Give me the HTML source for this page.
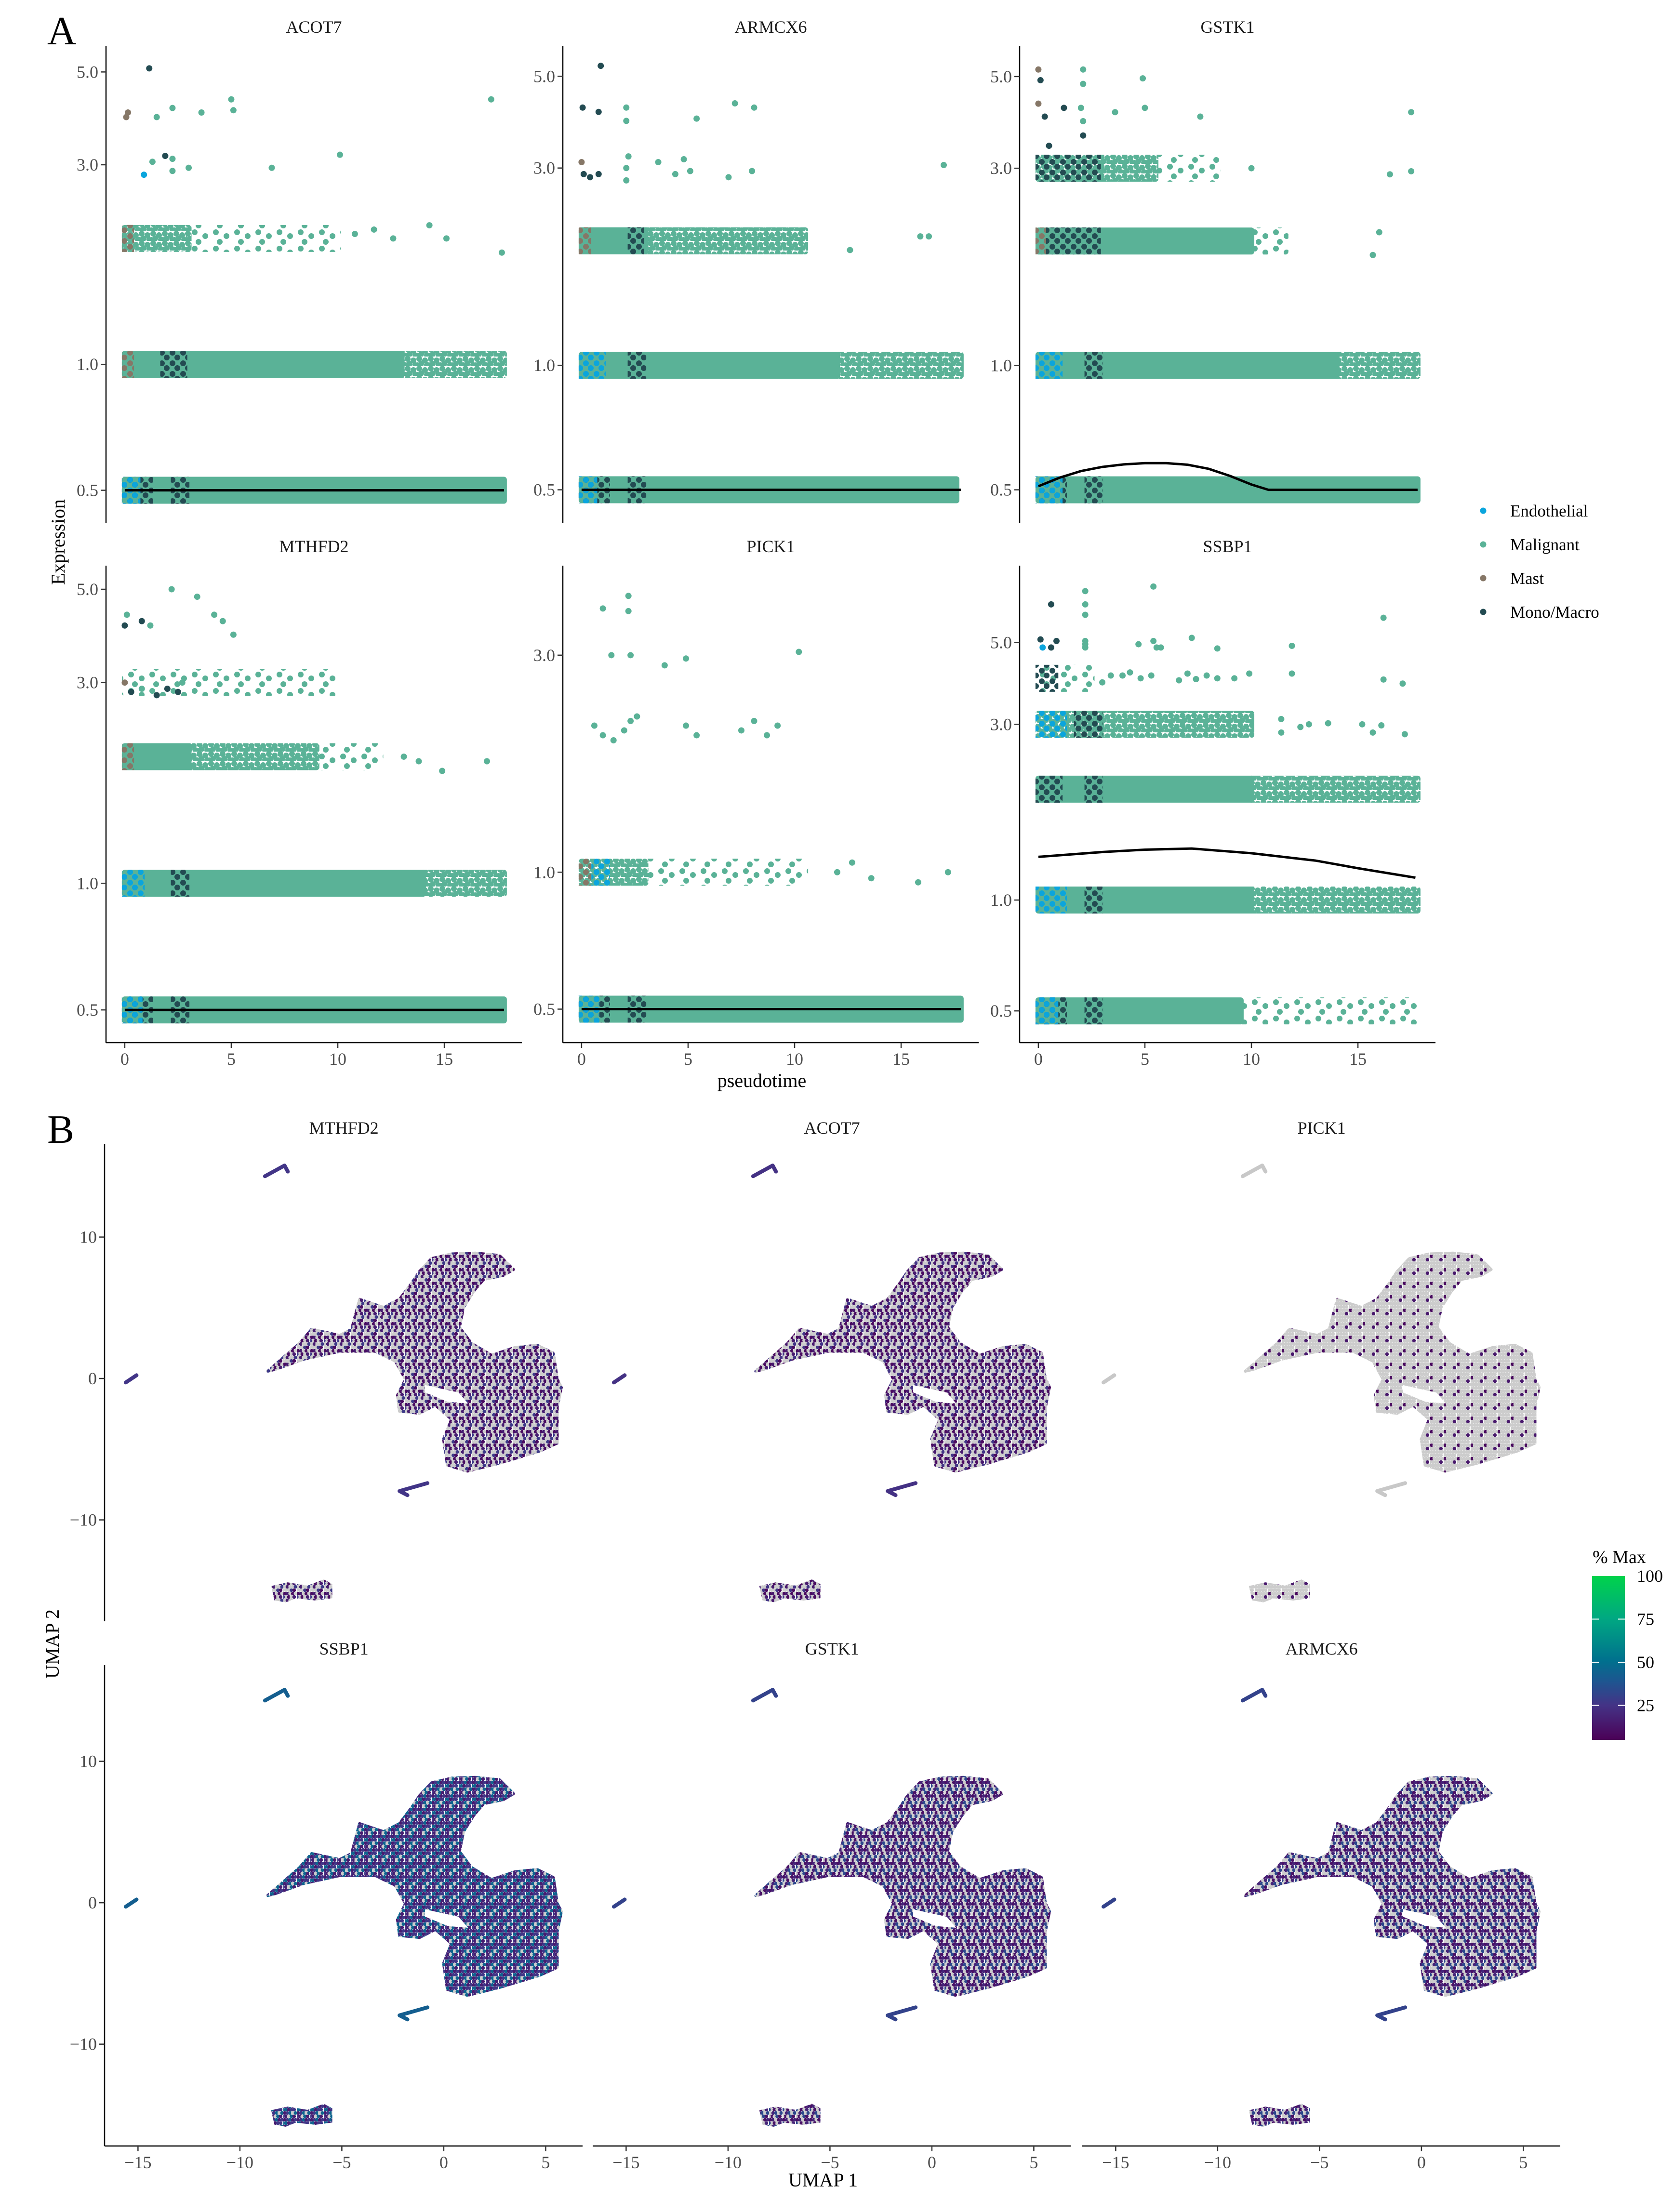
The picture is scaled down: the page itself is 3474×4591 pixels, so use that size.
<!DOCTYPE html>
<html><head><meta charset="utf-8"><title>Pseudotime expression and UMAP feature plots</title>
<style>
html,body{margin:0;padding:0;background:#fff;}
svg{display:block;font-family:"Liberation Serif","DejaVu Serif",serif;}
</style></head>
<body>
<svg id="fig" xmlns="http://www.w3.org/2000/svg" width="3474" height="4591" viewBox="0 0 3474 4591">
<defs>
<linearGradient id="cbar" x1="0" y1="0" x2="0" y2="1">
<stop offset="0" stop-color="#00d34b"/><stop offset="0.26" stop-color="#00a882"/>
<stop offset="0.52" stop-color="#00708e"/><stop offset="0.65" stop-color="#1f5490"/>
<stop offset="0.79" stop-color="#443386"/><stop offset="1" stop-color="#4b0157"/>
</linearGradient>
</defs>
<text x="98" y="92" font-size="84">A</text>
<text x="98" y="2372" font-size="84">B</text>
</svg>
<script>
// ---------- Panel A data ----------
const aGenes = ['ACOT7','ARMCX6','GSTK1','MTHFD2','PICK1','SSBP1'];
const aYDomains = [[0.417,5.76],[0.415,5.91],[0.415,5.92],[0.418,5.69],[0.422,4.72],[0.41,8.09]];
const aXDomain = [-0.88,18.64];
const aXTicks = [0,5,10,15];
const aYTicks = [[0.5,1,3,5],[0.5,1,3,5],[0.5,1,3,5],[0.5,1,3,5],[0.5,1,3],[0.5,1,3,5]];
const aYTickLabels = [['0.5','1.0','3.0','5.0'],['0.5','1.0','3.0','5.0'],['0.5','1.0','3.0','5.0'],['0.5','1.0','3.0','5.0'],['0.5','1.0','3.0'],['0.5','1.0','3.0','5.0']];
const cellTypes = ['Endothelial','Malignant','Mast','Mono/Macro'];
const cellCodes = ['E','M','S','D'];
const bandsACOT7 = [[0.5,0,17.8,'solid'],[1,0,13,'solid'],[1,13,17.8,'mid'],[2,0,3,'mid'],[2,3,10,'sparse']];
const bandsARMCX6 = [[0.5,0,17.6,'solid'],[1,0,12,'solid'],[1,12,17.8,'mid'],[2,0,3,'solid'],[2,3,10.5,'mid']];
const bandsGSTK1 = [[0.5,0,17.8,'solid'],[1,0,14,'solid'],[1,14,17.8,'mid'],[2,0,10,'solid'],[2,10,11.6,'sparse'],[3,0,5.5,'mid'],[3,5.5,8.4,'sparse']];
const bandsMTHFD2 = [[0.5,0,17.8,'solid'],[1,0,14,'solid'],[1,14,17.8,'mid'],[2,0,3,'solid'],[2,3,9,'mid'],[2,9,12,'sparse'],[3,0,2.7,'sparse'],[3,2.7,9.8,'sparse']];
const bandsPICK1 = [[0.5,0,17.8,'solid'],[1,0,3,'mid'],[1,3,10.5,'sparse']];
const bandsSSBP1 = [[0.5,0,9.5,'solid'],[0.5,9.5,17.8,'sparse'],[1,0,10,'solid'],[1,10,17.8,'mid'],[2,0,10,'solid'],[2,10,17.8,'mid'],[3,0,10,'mid'],[4,0,2.5,'sparse']];
const overACOT7 = [[0.5,0,1.2,'D'],[0.5,2.3,2.9,'D'],[0.5,0,0.6,'E'],[1,0,0.3,'S'],[1,1.8,2.8,'D'],[2,0,0.3,'S']];
const overARMCX6 = [[0.5,0,1.2,'D'],[0.5,2.3,2.9,'D'],[0.5,0,0.6,'E'],[1,0,1.0,'E'],[1,2.3,2.9,'D'],[2,0,0.3,'S'],[2,2.3,2.8,'D']];
const overGSTK1 = [[0.5,0,1.2,'D'],[0.5,0,1.0,'E'],[0.5,2.3,2.9,'D'],[1,0,1.0,'E'],[1,2.3,2.9,'D'],[2,0,0.4,'S'],[2,0.5,2.8,'D'],[3,0,2.8,'D']];
const overMTHFD2 = [[0.5,0,1.2,'D'],[0.5,0,0.7,'E'],[0.5,2.3,2.9,'D'],[1,0,0.8,'E'],[1,2.3,2.9,'D'],[2,0,0.3,'S']];
const overPICK1 = [[0.5,0,1.2,'D'],[0.5,0,0.7,'E'],[0.5,2.3,2.9,'D'],[1,0.6,1.2,'E'],[1,0,0.3,'S']];
const overSSBP1 = [[0.5,0,1.2,'D'],[0.5,0,0.8,'E'],[0.5,2.3,2.9,'D'],[1,0,1.2,'E'],[1,2.3,2.9,'D'],[2,0,1.0,'D'],[2,2.3,2.9,'D'],[3,0,1.2,'E'],[3,1.8,2.9,'D'],[4,0,0.8,'D']];
const ptsACOT7 = [[10.8,2.05,'M'],[11.7,2.1,'M'],[12.6,2.0,'M'],[14.3,2.15,'M'],[15.1,2.0,'M'],[17.7,1.85,'M'],[0.9,2.84,'E'],[1.3,3.05,'M'],[1.9,3.15,'D'],[2.24,3.1,'M'],[2.24,2.9,'M'],[3,2.95,'M'],[6.9,2.95,'M'],[10.1,3.17,'M'],[0.07,3.9,'S'],[0.15,4.0,'S'],[1.5,3.9,'M'],[2.24,4.1,'M'],[3.6,4.0,'M'],[5.0,4.3,'M'],[5.1,4.05,'M'],[17.2,4.3,'M'],[1.15,5.1,'D']];
const ptsARMCX6 = [[12.6,1.9,'M'],[15.9,2.05,'M'],[16.3,2.05,'M'],[0,3.1,'S'],[0.1,2.9,'D'],[0.4,2.85,'D'],[0.8,2.9,'D'],[2.1,3.0,'M'],[2.1,2.8,'M'],[2.2,3.2,'M'],[3.6,3.1,'M'],[4.4,2.9,'M'],[4.8,3.15,'M'],[5.1,2.95,'M'],[6.9,2.85,'M'],[8.0,2.95,'M'],[17.0,3.05,'M'],[0.05,4.2,'D'],[0.8,4.1,'D'],[2.1,4.2,'M'],[2.1,3.9,'M'],[5.4,3.95,'M'],[7.2,4.3,'M'],[8.1,4.2,'M'],[0.9,5.3,'D']];
const ptsGSTK1 = [[15.7,1.85,'M'],[16.0,2.1,'M'],[10,3.0,'M'],[16.5,2.9,'M'],[17.5,2.95,'M'],[0,4.3,'S'],[0.3,4.0,'D'],[1.2,4.2,'D'],[2.0,4.2,'M'],[2.1,3.9,'M'],[3.6,4.1,'M'],[5.0,4.2,'M'],[7.6,4.0,'M'],[17.5,4.1,'M'],[0,5.2,'S'],[0.1,4.9,'D'],[2.1,5.2,'M'],[2.1,4.8,'M'],[4.9,4.95,'M'],[2.1,3.6,'D'],[0.5,3.4,'D']];
const ptsMTHFD2 = [[13.1,2.0,'M'],[13.8,1.95,'M'],[14.9,1.85,'M'],[17.0,1.95,'M'],[0,3.0,'S'],[0.3,2.85,'D'],[0.8,2.9,'M'],[1.5,2.8,'D'],[2,2.9,'D'],[2.5,2.85,'D'],[2.7,3.0,'M'],[0,4.1,'D'],[0.1,4.35,'M'],[0.8,4.2,'D'],[2.2,5.0,'M'],[3.4,4.8,'M'],[4.2,4.35,'M'],[4.6,4.2,'M'],[5.1,3.9,'M'],[1.2,4.1,'M']];
const ptsPICK1 = [[12,1.0,'M'],[12.7,1.05,'M'],[13.6,0.97,'M'],[15.8,0.95,'M'],[17.2,1.0,'M'],[0.6,2.1,'M'],[1.0,2.0,'M'],[1.5,1.95,'M'],[2.3,2.15,'M'],[2.6,2.2,'M'],[4.9,2.1,'M'],[5.4,2.0,'M'],[7.5,2.05,'M'],[8.1,2.15,'M'],[8.7,2.0,'M'],[9.2,2.1,'M'],[2.0,2.05,'M'],[1.4,3.0,'M'],[2.3,3.0,'M'],[3.9,2.85,'M'],[4.9,2.95,'M'],[10.2,3.05,'M'],[1.0,3.8,'M'],[2.2,4.05,'M'],[2.2,3.75,'M']];
const ptsSSBP1 = [[11.4,3.1,'M'],[11.4,2.85,'M'],[12.3,2.95,'M'],[12.7,3.0,'M'],[13.6,3.02,'M'],[15.2,3.0,'M'],[15.7,2.85,'M'],[16.1,2.98,'M'],[17.2,2.82,'M'],[3.0,3.9,'M'],[3.4,4.07,'M'],[3.95,4.07,'M'],[4.3,4.15,'M'],[4.8,4.0,'M'],[5.3,4.07,'M'],[6.6,3.95,'M'],[7.0,4.12,'M'],[7.4,3.98,'M'],[7.9,4.07,'M'],[8.4,4.0,'M'],[9.2,4.0,'M'],[9.9,4.12,'M'],[11.9,4.12,'M'],[16.2,3.97,'M'],[17.1,3.87,'M'],[0.1,5.1,'D'],[0.85,5.05,'D'],[0.6,4.85,'D'],[0.2,4.85,'E'],[2.2,5.05,'M'],[2.2,4.95,'M'],[2.2,4.85,'M'],[4.7,4.95,'M'],[5.4,5.05,'M'],[5.55,4.85,'M'],[5.75,4.85,'M'],[7.2,5.15,'M'],[8.4,4.82,'M'],[11.9,4.9,'M'],[0.6,6.35,'D'],[2.2,6.9,'M'],[2.2,6.35,'M'],[2.2,5.95,'M'],[5.4,7.1,'M'],[16.2,5.84,'M']];
const aBands = [bandsACOT7,bandsARMCX6,bandsGSTK1,bandsMTHFD2,bandsPICK1,bandsSSBP1];
const aOverlays = [overACOT7,overARMCX6,overGSTK1,overMTHFD2,overPICK1,overSSBP1];
const aPoints = [ptsACOT7,ptsARMCX6,ptsGSTK1,ptsMTHFD2,ptsPICK1,ptsSSBP1];
const curveFlat = [[0,0.5],[17.8,0.5]];
const curveGSTK1 = [[0,0.51],[1,0.535],[2,0.555],[3,0.568],[4,0.576],[5,0.58],[6,0.58],[7,0.575],[8,0.562],[9,0.54],[10,0.515],[10.8,0.5],[17.8,0.5]];
const curveSSBP1 = [[0,1.31],[3,1.35],[5,1.37],[7.2,1.38],[10,1.34],[13,1.28],[15,1.22],[17.7,1.15]];
const aCurves = [curveFlat,curveFlat,curveGSTK1,curveFlat,curveFlat,curveSSBP1];

// ---------- Panel B data ----------
const bGenes = ['MTHFD2','ACOT7','PICK1','SSBP1','GSTK1','ARMCX6'];
const bFracColored = [0.5,0.48,0.12,0.92,0.65,0.6];
const bMeanPct = [16,15,14,26,19,19];
const bXDomain = [-16.64,6.81];
const bYDomains = [[-17.17,16.56],[-17.2,16.8]];
const bXTicks = [-15,-10,-5,0,5];
const bXTickLabels = ['\u221215','\u221210','\u22125','0','5'];
const bYTicks = [10,0,-10];
const bYTickLabels = ['10','0','\u221210'];
const umapMain = [[-8.64,0.51],[-7.07,2.49],[-6.48,3.48],[-5.11,3.05],[-4.52,3.48],[-4.13,5.6],[-3.54,5.31],[-2.95,5.03],[-2.17,5.6],[-1.58,6.73],[-1.19,7.57],[-0.6,8.48],[0.38,8.81],[1.55,8.87],[2.73,8.7],[3.42,7.71],[2.93,7.29],[1.95,7.0],[1.46,6.16],[0.97,5.03],[0.77,3.62],[1.36,2.49],[2.34,1.64],[3.51,2.2],[4.59,2.35],[5.38,1.78],[5.57,-0.05],[5.77,-0.62],[5.57,-2.03],[5.57,-4.57],[4.69,-5.14],[2.73,-5.99],[1.16,-6.55],[0.18,-6.13],[-0.01,-4.29],[0.38,-2.88],[-0.41,-1.89],[-1.19,-2.46],[-2.17,-2.32],[-2.27,-1.19],[-1.88,-0.06],[-2.37,1.22],[-3.35,1.92],[-5.11,1.92],[-6.87,1.36],[-8.25,0.65]];
const umapHole = [[-0.99,-0.34],[0.77,-0.9],[1.36,-1.89],[0.18,-1.75],[-0.99,-1.05]];
const umapBottom = [[-8.38,-14.75],[-7.66,-14.52],[-6.68,-14.75],[-5.89,-14.32],[-5.54,-14.6],[-5.54,-15.45],[-6.29,-15.6],[-7.27,-15.45],[-7.76,-15.73],[-8.25,-15.6]];
const umapTopLine = [[-8.77,14.3],[-7.81,15.06],[-7.65,14.63]];
const umapLeftLine = [[-15.6,-0.28],[-15.07,0.23]];
const umapMidLine = [[-1.78,-8.25],[-2.17,-7.96],[-0.8,-7.4]];
const cbarTicks = [100,75,50,25];
const cbarDomain = [5,100];

// ---------- helpers ----------
const NS = 'http://www.w3.org/2000/svg';
const svg = document.getElementById('fig');
const defs = svg.querySelector('defs');
function mk(tag, attrs, parent){ const el = document.createElementNS(NS, tag); for (const k in attrs) el.setAttribute(k, attrs[k]); (parent||svg).appendChild(el); return el; }
const typeColor = {M:'#5ab297', E:'#0aa5dd', S:'#867767', D:'#234b52'};

function makeDotPattern(id, w, h, dots, color){
  const p = mk('pattern', {id:id, width:w, height:h, patternUnits:'userSpaceOnUse'}, defs);
  dots.forEach(d => mk('circle', {cx:d[0], cy:d[1], r:6, fill:color}, p));
}
makeDotPattern('pat-mid', 24, 20, [[6,5],[18,8],[10,15],[22,17],[2,18]], typeColor.M);
makeDotPattern('pat-sparse', 44, 34, [[8,6],[30,14],[16,26]], typeColor.M);
['E','S','D'].forEach(t => makeDotPattern('pat-'+t, 22, 22, [[6,6],[16,16]], typeColor[t]));

// ---------- Panel A ----------
const aColX = [220,1168,2116], aRowTop = [96,1174], aW = 863, aH = 990;
function ax(p, v){ const c = p%3; return aColX[c] + (v - aXDomain[0])/(aXDomain[1]-aXDomain[0])*aW; }
function ay(p, v){ const r = Math.floor(p/3), d = aYDomains[p];
  return aRowTop[r] + (Math.log(d[1]) - Math.log(v))/(Math.log(d[1]) - Math.log(d[0]))*aH; }

aGenes.forEach((g, p) => {
  const c = p%3, r = Math.floor(p/3);
  const grp = mk('g', {});
  
  
  const x0 = aColX[c], top = aRowTop[r], bot = top + aH;
  const t = mk('text', {x: x0 + aW/2, y: top - 28, 'font-size': 36, 'text-anchor':'middle', fill:'#1a1a1a'}, grp);
  t.textContent = g;
  
  
  aBands[p].forEach(b => {
    const xa = ax(p, b[1]) - 6, xb = ax(p, b[2]) + 6, yc = ay(p, b[0]);
    const fill = b[3]==='solid' ? typeColor.M : (b[3]==='mid' ? 'url(#pat-mid)' : 'url(#pat-sparse)');
    const rc = mk('rect', {x:xa, y:yc-28, width:Math.max(12, xb-xa), height:56, rx:6, fill:fill}, grp);
    
    
  });
  aOverlays[p].forEach(o => {
    const xa = ax(p, o[1]) - 6, xb = ax(p, o[2]) + 6, yc = ay(p, o[0]);
    const rc = mk('rect', {x:xa, y:yc-28, width:Math.max(12, xb-xa), height:56, fill:'url(#pat-'+o[3]+')'}, grp);
    
    
  });
  aPoints[p].forEach(pt => {
    const ci = mk('circle', {cx: ax(p, pt[0]), cy: ay(p, pt[1]), r: 6.5, fill: typeColor[pt[2]]}, grp);
    
    
  });
  const d = aCurves[p].map((q,i) => (i?'L':'M') + ax(p,q[0]).toFixed(1) + ',' + ay(p,q[1]).toFixed(1)).join(' ');
  const cv = mk('path', {d:d, fill:'none', stroke:'#000', 'stroke-width':5}, grp);
  
  
  const yl = mk('line', {x1:x0, y1:top, x2:x0, y2:bot, stroke:'#000', 'stroke-width':2.5}, grp);
  
  
  aYTicks[p].forEach((v, i) => {
    const y = ay(p, v);
    mk('line', {x1:x0-11, y1:y, x2:x0, y2:y, stroke:'#333', 'stroke-width':2.5}, grp);
    const tl = mk('text', {x:x0-16, y:y+12, 'font-size':36, 'text-anchor':'end', fill:'#4d4d4d'}, grp);
    tl.textContent = aYTickLabels[p][i];
    
    
  });
  if (r === 1) {
    const xl = mk('line', {x1:x0, y1:bot, x2:x0+aW, y2:bot, stroke:'#000', 'stroke-width':2.5}, grp);
    
    
    aXTicks.forEach(v => {
      const x = ax(p, v);
      mk('line', {x1:x, y1:bot, x2:x, y2:bot+11, stroke:'#333', 'stroke-width':2.5}, grp);
      const tl = mk('text', {x:x, y:bot+46, 'font-size':36, 'text-anchor':'middle', fill:'#4d4d4d'}, grp);
      tl.textContent = String(v);
      
      
    });
  }
});
const yTitle = mk('text', {x:0, y:0, 'font-size':40, 'text-anchor':'middle', transform:'translate(134,1125) rotate(-90)'});
yTitle.textContent = 'Expression';


const xTitle = mk('text', {x:1581, y:2256, 'font-size':40, 'text-anchor':'middle'});
xTitle.textContent = 'pseudotime';


const leg = mk('g', {});


cellTypes.forEach((name, i) => {
  const y = 1060 + i*70;
  const dot = mk('circle', {cx:3078, cy:y, r:6.5, fill:typeColor[cellCodes[i]]}, leg);
  
  
  const tx = mk('text', {x:3134, y:y+12, 'font-size':35}, leg);
  tx.textContent = name;
  
  
});

// ---------- Panel B ----------
const bColX = [217,1230,2246], bRowTop = [2375,3456], bRowH = [990,998], bW = 992;
function bx(c, v){ return bColX[c] + (v - bXDomain[0])/(bXDomain[1]-bXDomain[0])*bW; }
function by(r, v){ const d = bYDomains[r]; return bRowTop[r] + (d[1]-v)/(d[1]-d[0])*bRowH[r]; }
const cmapStops = [[5,[75,1,87]],[25,[68,51,134]],[37,[31,84,144]],[50,[0,112,142]],[75,[0,168,130]],[100,[0,211,75]]];
function cmap(v){
  v = Math.max(5, Math.min(100, v));
  for (let i=1;i<cmapStops.length;i++){ const a=cmapStops[i-1], b=cmapStops[i];
    if (v<=b[0]){ const t=(v-a[0])/(b[0]-a[0]); return 'rgb('+a[1].map((u,k)=>Math.round(u+(b[1][k]-u)*t)).join(',')+')'; } }
  return 'rgb(0,211,75)';
}
bGenes.forEach((g, gi) => {
  const pat = mk('pattern', {id:'umap-'+gi, width:28, height:28, patternUnits:'userSpaceOnUse'}, defs);
  const order = [0,7,14,3,10,17,6,13,1,8,15,4,11,18,5,12,19,2,9,16];
  for (let k=0;k<20;k++){
    const col = k%5, row = Math.floor(k/5);
    const cx = col*5.6 + 2.8 + (row%2)*2.8, cy = row*7 + 3.5;
    const colored = (order[k]+0.5)/20 < bFracColored[gi];
    const shade = [0.6,1,1.7][order[k]%3];
    mk('circle', {cx:cx%28, cy:cy, r:3.7, fill: colored ? cmap(bMeanPct[gi]*shade) : '#cccccc'}, pat);
  }
});
function polyPath(c, r, pts, close){ return pts.map((q,i)=>(i?'L':'M')+bx(c,q[0]).toFixed(1)+','+by(r,q[1]).toFixed(1)).join(' ') + (close?' Z':''); }
bGenes.forEach((g, gi) => {
  const c = gi%3, r = Math.floor(gi/3);
  const grp = mk('g', {});
  
  
  const t = mk('text', {x: bx(c, -4.9), y: bRowTop[r] - 22, 'font-size':36, 'text-anchor':'middle', fill:'#1a1a1a'}, grp);
  t.textContent = g;
  
  
  const fill = 'url(#umap-'+gi+')';
  const body = mk('path', {d: polyPath(c,r,umapMain,true) + ' ' + polyPath(c,r,umapHole,true), fill:fill, 'fill-rule':'evenodd', stroke:fill, 'stroke-width':6, 'stroke-linejoin':'round'}, grp);
  
  
  const bb = mk('path', {d: polyPath(c,r,umapBottom,true), fill:fill, stroke:fill, 'stroke-width':6}, grp);
  
  
  [[umapTopLine,'umap-top-cluster'],[umapLeftLine,'umap-left-cluster'],[umapMidLine,'umap-mid-cluster']].forEach(L => {
    const ln = mk('path', {d: polyPath(c,r,L[0],false), fill:'none', stroke: gi===2 ? '#c8c8c8' : cmap(bMeanPct[gi]*1.6), 'stroke-width':8, 'stroke-linecap':'round', 'stroke-linejoin':'round'}, grp);
    
    
  });
  const top = bRowTop[r], bot = top + bRowH[r];
  if (c === 0) {
    const yl = mk('line', {x1:bColX[0], y1:top, x2:bColX[0], y2:bot, stroke:'#000', 'stroke-width':2.5}, grp);
    
    
    bYTicks.forEach((v,i) => {
      const y = by(r, v);
      mk('line', {x1:bColX[0]-11, y1:y, x2:bColX[0], y2:y, stroke:'#333', 'stroke-width':2.5}, grp);
      const tl = mk('text', {x:bColX[0]-16, y:y+12, 'font-size':36, 'text-anchor':'end', fill:'#4d4d4d'}, grp);
      tl.textContent = bYTickLabels[i];
      
      
    });
  }
  if (r === 1) {
    const xl = mk('line', {x1:bColX[c], y1:bot, x2:bColX[c]+bW, y2:bot, stroke:'#000', 'stroke-width':2.5}, grp);
    
    
    bXTicks.forEach((v,i) => {
      const x = bx(c, v);
      mk('line', {x1:x, y1:bot, x2:x, y2:bot+11, stroke:'#333', 'stroke-width':2.5}, grp);
      const tl = mk('text', {x:x, y:bot+46, 'font-size':36, 'text-anchor':'middle', fill:'#4d4d4d'}, grp);
      tl.textContent = bXTickLabels[i];
      
      
    });
  }
});
const u2 = mk('text', {x:0, y:0, 'font-size':40, 'text-anchor':'middle', transform:'translate(122,3412) rotate(-90)'});
u2.textContent = 'UMAP 2';


const u1 = mk('text', {x:1708, y:4538, 'font-size':40, 'text-anchor':'middle'});
u1.textContent = 'UMAP 1';


const cb = mk('g', {});


const cbTop = 3271, cbH = 340, cbX = 3304, cbW = 68;
function cy(v){ return cbTop + (cbarDomain[1]-v)/(cbarDomain[1]-cbarDomain[0])*cbH; }
const cbr = mk('rect', {x:cbX, y:cbTop, width:cbW, height:cbH, fill:'url(#cbar)'}, cb);


const cbt = mk('text', {x:3305, y:3244, 'font-size':38}, cb);
cbt.textContent = '% Max';


cbarTicks.forEach(v => {
  const y = cy(v);
  if (v < 100) { mk('line', {x1:cbX, y1:y, x2:cbX+14, y2:y, stroke:'#fff', 'stroke-width':2}, cb);
    mk('line', {x1:cbX+cbW-14, y1:y, x2:cbX+cbW, y2:y, stroke:'#fff', 'stroke-width':2}, cb); }
  const tl = mk('text', {x:3397, y:y+12, 'font-size':36}, cb);
  tl.textContent = String(v);
  
  
});
</script>
</body></html>
